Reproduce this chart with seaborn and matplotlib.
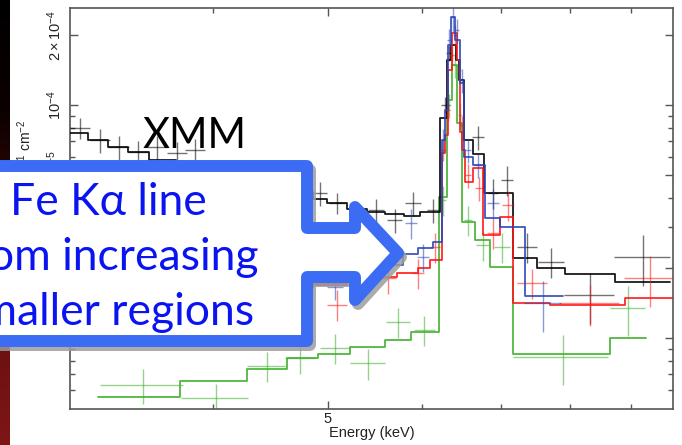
import numpy as np
import pandas as pd
import matplotlib
matplotlib.use("Agg")
import matplotlib.pyplot as plt
import seaborn as sns
from matplotlib.patches import Polygon
from matplotlib.colors import LinearSegmentedColormap
from matplotlib.ticker import FixedLocator, FixedFormatter, NullFormatter

# ---------------- spectra (energy in keV, flux in counts s^-1 keV^-1 cm^-2) ----------------
# folded model: bin edges and one value per bin
black_edges = [3.03, 3.14, 3.26, 3.39, 3.53, 3.72, 3.94, 4.22, 4.56, 4.86, 4.99, 5.19, 5.39, 5.58,
               5.80, 5.98, 6.21, 6.30, 6.35, 6.41, 6.45, 6.51, 6.62, 6.77, 7.16, 7.50, 7.92, 8.73, 9.71]
black_model = [7.59e-5, 7.08e-5, 6.60e-5, 6.29e-5, 5.81e-5, 5.42e-5, 5.01e-5, 4.63e-5, 4.23e-5, 3.95e-5,
               3.80e-5, 3.58e-5, 3.47e-5, 3.41e-5, 3.34e-5, 3.47e-5, 8.79e-5, 1.56e-4, 1.81e-4, 1.56e-4,
               1.28e-4, 7.08e-5, 6.16e-5, 4.19e-5, 2.20e-5, 2.00e-5, 1.88e-5, 1.74e-5]
black_E = [3.09, 3.21, 3.33, 3.46, 3.59, 3.73, 3.86, 4.92, 5.09, 5.49, 5.69, 5.90, 6.13,
           6.27, 6.33, 6.69, 6.89, 7.08, 7.36, 7.71, 8.31, 9.21]
black_dE = [0.06, 0.062, 0.065, 0.067, 0.07, 0.072, 0.075, 0.067, 0.079, 0.085, 0.088, 0.092, 0.071,
            0.049, 0.037, 0.078, 0.067, 0.082, 0.143, 0.19, 0.40, 0.50]
black_F = [7.97e-5, 7.08e-5, 6.60e-5, 6.29e-5, 6.60e-5, 6.22e-5, 6.41e-5, 4.19e-5, 3.80e-5, 3.54e-5,
           3.21e-5, 3.80e-5, 3.54e-5, 1.0e-4, 1.67e-4, 7.29e-5, 4.19e-5, 4.77e-5, 2.46e-5, 2.12e-5,
           1.53e-5, 2.23e-5]
black_dF = [7.9e-6, 8.4e-6, 7.8e-6, 7.5e-6, 7.8e-6, 7.4e-6, 7.6e-6, 5.0e-6, 3.8e-6, 4.2e-6, 3.8e-6,
            4.5e-6, 4.2e-6, 7.9e-6, 1.3e-5, 8.6e-6, 6.2e-6, 7.1e-6, 3.6e-6, 3.1e-6, 3.8e-6, 5.5e-6]

red_edges = [3.03, 3.54, 4.13, 4.86, 5.19, 5.39, 5.72, 5.95, 6.09, 6.24, 6.27, 6.31, 6.36, 6.42,
             6.46, 6.48, 6.52, 6.62, 6.75, 6.98, 7.16, 7.69, 8.90, 9.77]
red_model = [1.49e-5, 1.56e-5, 1.64e-5, 1.69e-5, 1.76e-5, 1.83e-5, 1.90e-5, 2.00e-5, 2.16e-5, 6.22e-5,
             7.43e-5, 1.41e-4, 2.04e-4, 1.56e-4, 7.66e-5, 6.41e-5, 4.67e-5, 5.37e-5, 2.77e-5, 3.31e-5,
             1.41e-5, 1.39e-5, 1.49e-5]
red_E = [5.09, 5.62, 5.95, 6.15, 6.25, 6.31, 6.36, 6.40, 6.45, 6.48, 6.56, 6.71, 6.89, 7.09, 7.43, 8.31, 9.34]
red_dE = [0.10, 0.087, 0.069, 0.06, 0.036, 0.025, 0.025, 0.025, 0.025, 0.025, 0.038, 0.052, 0.08,
          0.083, 0.22, 0.48, 0.45]
red_F = [1.39e-5, 1.81e-5, 1.90e-5, 2.46e-5, 6.41e-5, 9.52e-5, 1.64e-4, 2.0e-4, 1.41e-4, 8.21e-5,
         5.01e-5, 4.40e-5, 2.82e-5, 3.72e-5, 1.72e-5, 1.41e-5, 1.81e-5]
red_dF = [2.1e-6, 2.7e-6, 2.8e-6, 3.6e-6, 6.3e-6, 9.4e-6, 1.6e-5, 2.0e-5, 1.4e-5, 8.1e-6, 5.9e-6,
          5.2e-6, 4.2e-6, 5.5e-6, 2.5e-6, 2.8e-6, 4.5e-6]

blue_edges = [3.03, 3.54, 4.13, 4.86, 5.19, 5.78, 5.95, 6.13, 6.24, 6.27, 6.31, 6.35, 6.40, 6.46,
              6.51, 6.62, 6.78, 6.98, 7.33, 7.89]
blue_model = [1.53e-5, 1.61e-5, 1.67e-5, 1.72e-5, 2.06e-5, 2.29e-5, 2.43e-5, 2.58e-5, 7.08e-5, 9.52e-5,
              1.81e-4, 2.39e-4, 1.90e-4, 1.24e-4, 5.98e-5, 5.53e-5, 3.27e-5, 3.00e-5, 1.52e-5]
blue_E = [5.07, 5.88, 6.01, 6.25, 6.33, 6.37, 6.42, 6.48, 6.56, 6.69, 6.89, 7.59]
blue_dE = [0.079, 0.069, 0.07, 0.024, 0.025, 0.025, 0.025, 0.025, 0.038, 0.052, 0.08, 0.27]
blue_F = [1.66e-5, 3.12e-5, 2.23e-5, 7.08e-5, 1.90e-4, 2.39e-4, 2.10e-4, 1.28e-4, 6.41e-5, 5.53e-5,
          3.80e-5, 1.41e-5]
blue_dF = [2.0e-6, 4.6e-6, 3.1e-6, 8.4e-6, 2.3e-5, 3.3e-5, 2.5e-5, 1.5e-5, 7.6e-6, 6.6e-6, 5.6e-6, 3.5e-6]

green_edges = [3.20, 3.75, 4.27, 4.62, 4.90, 5.22, 5.58, 5.87, 6.20, 6.30, 6.36, 6.42, 6.48, 6.65,
               6.85, 7.16, 8.64, 9.28]
green_model = [5.58e-6, 6.54e-6, 7.36e-6, 8.20e-6, 8.53e-6, 9.15e-6, 9.80e-6, 1.06e-5, 4.03e-5,
               1.05e-4, 1.49e-4, 8.37e-5, 3.15e-5, 2.63e-5, 2.02e-5, 8.53e-6, 1.0e-5]
green_E = [3.49, 4.02, 4.44, 4.74, 5.07, 5.40, 5.73, 6.03, 6.25, 6.33, 6.40, 6.46, 6.56, 6.75, 7.01, 7.89, 8.95]
green_dE = [0.28, 0.26, 0.17, 0.14, 0.15, 0.18, 0.13, 0.12, 0.036, 0.025, 0.025, 0.025, 0.05, 0.08,
            0.11, 0.73, 0.31]
green_F = [6.29e-6, 5.53e-6, 7.58e-6, 8.20e-6, 9.06e-6, 7.81e-6, 1.17e-5, 1.08e-5, 3.91e-5, 1.0e-4,
           1.49e-4, 9.06e-5, 3.21e-5, 2.51e-5, 2.46e-5, 8.29e-6, 1.35e-5]
green_dF = [1.1e-6, 8.2e-7, 1.1e-6, 1.2e-6, 1.3e-6, 1.2e-6, 1.7e-6, 1.6e-6, 5.8e-6, 1.2e-5, 1.8e-5,
            1.1e-5, 4.8e-6, 3.7e-6, 3.6e-6, 2.0e-6, 3.3e-6]

# axis ranges and ticks
x_range = (3.03, 9.77)
y_range = (4.96e-6, 2.61e-4)
x_major = [5]
x_major_labels = ["5"]
x_minor = [3, 4, 6, 7, 8, 9]
y_major = [1e-5, 2e-5, 5e-5, 1e-4, 2e-4]
y_major_labels = ["", "", r"$5\times10^{-5}$", r"$10^{-4}$", r"$2\times10^{-4}$"]
y_minor = [6e-6, 7e-6, 8e-6, 9e-6, 3e-5, 4e-5, 6e-5, 7e-5, 8e-5, 9e-5]

x_title = "Energy (keV)"
y_title = r"normalized counts s$^{-1}$ keV$^{-1}$ cm$^{-2}$"
callout_lines = ["Fe K\u03b1 line", "from increasing", "smaller regions"]
instrument = "XMM"

# ---------------- style ----------------
sns.set_style("ticks")
plt.rcParams["font.family"] = ["Liberation Sans", "DejaVu Sans"]
plt.rcParams["mathtext.fontset"] = "custom"
plt.rcParams["mathtext.rm"] = "Liberation Sans"
plt.rcParams["mathtext.it"] = "Liberation Sans:italic"
plt.rcParams["mathtext.bf"] = "Liberation Sans:bold"

W, H = 682, 445
fig = plt.figure(figsize=(W / 100, H / 100), dpi=100)
fig.patch.set_facecolor("white")

ax = fig.add_axes([70 / W, 1 - 409 / H, 603 / W, 401 / H])
ax.set_xscale("log")
ax.set_yscale("log")

series = [
    ("#3fae2a", green_edges, green_model, green_E, green_dE, green_F, green_dF),
    ("#000000", black_edges, black_model, black_E, black_dE, black_F, black_dF),
    ("#ff1414", red_edges, red_model, red_E, red_dE, red_F, red_dF),
    ("#2a45b8", blue_edges, blue_model, blue_E, blue_dE, blue_F, blue_dF),
]

for z, (col, edges, model, E, dE, F, dF) in enumerate(series):
    steps = pd.DataFrame({"energy": edges, "flux": list(model) + [model[-1]]})
    sns.lineplot(data=steps, x="energy", y="flux", ax=ax, drawstyle="steps-post",
                 estimator=None, sort=False, color=col, lw=1.3, alpha=0.9, zorder=3 + z)
    ax.errorbar(E, F, xerr=dE, yerr=dF, fmt="none", ecolor=col, elinewidth=1.0,
                alpha=0.55, capsize=0, zorder=2 + z)

ax.set_xlim(*x_range)
ax.set_ylim(*y_range)

ax.xaxis.set_major_locator(FixedLocator(x_major))
ax.xaxis.set_major_formatter(FixedFormatter(x_major_labels))
ax.xaxis.set_minor_locator(FixedLocator(x_minor))
ax.xaxis.set_minor_formatter(NullFormatter())
ax.yaxis.set_major_locator(FixedLocator(y_major))
ax.yaxis.set_major_formatter(FixedFormatter(y_major_labels))
ax.yaxis.set_minor_locator(FixedLocator(y_minor))
ax.yaxis.set_minor_formatter(NullFormatter())

ax.tick_params(which="both", direction="in", top=True, right=True, color="#555555", width=1.0,
               labelsize=10.5, labelcolor="#222222")
ax.tick_params(which="major", length=6)
ax.tick_params(axis="x", which="major", pad=2)
ax.tick_params(axis="y", which="major", pad=4)
ax.tick_params(which="minor", length=3.5)
for lab in ax.get_yticklabels():
    lab.set_rotation(90)
    lab.set_va("center")
for sp in ax.spines.values():
    sp.set_color("#555555")
    sp.set_linewidth(1.2)

ax.set_xlabel(x_title, fontsize=10.5, color="#222222", labelpad=0)
ax.set_ylabel("")

# ---------------- overlay in pixel coordinates ----------------
ov = fig.add_axes([0, 0, 1, 1], zorder=10)
ov.set_facecolor("none")

strip = np.linspace(0, 1, 256)[:, None]
strip_cmap = LinearSegmentedColormap.from_list(
    "strip", ["#000000", "#0c0101", "#3c0707", "#6a1010", "#7e1616"])
ov.imshow(strip, extent=[0, 10, H, 0], cmap=strip_cmap, aspect="auto", zorder=1)

ov.text(25, 120, y_title, rotation=90, ha="center", va="top", fontsize=10,
        color="#222222", zorder=1)

ov.text(143, 148, instrument, ha="left", va="baseline", fontsize=30, color="black",
        family=["Lato", "DejaVu Sans"], zorder=2)

outline = np.array([(-30, 166), (307, 166), (307, 228), (355, 228), (355, 207), (398, 253),
                    (355, 300), (355, 277), (307, 277), (307, 341), (-30, 341)], dtype=float)
shadow = Polygon(outline + np.array([3, 4]), closed=True, fc="#9c9c9c", ec="#9c9c9c",
                 lw=8.6, joinstyle="round", alpha=0.85, zorder=3)
box = Polygon(outline, closed=True, fc="white", ec="#3b6cf3", lw=8.6, joinstyle="round", zorder=4)
ov.add_patch(shadow)
ov.add_patch(box)

for line, base in zip(callout_lines, [215, 270, 325]):
    ov.text(108, base, line, ha="center", va="baseline", fontsize=32, color="#0a14f0",
            family=["Lato", "DejaVu Sans"], zorder=5)

ov.set_xlim(0, W)
ov.set_ylim(H, 0)
ov.axis("off")

fig.savefig("out.png", dpi=100)
